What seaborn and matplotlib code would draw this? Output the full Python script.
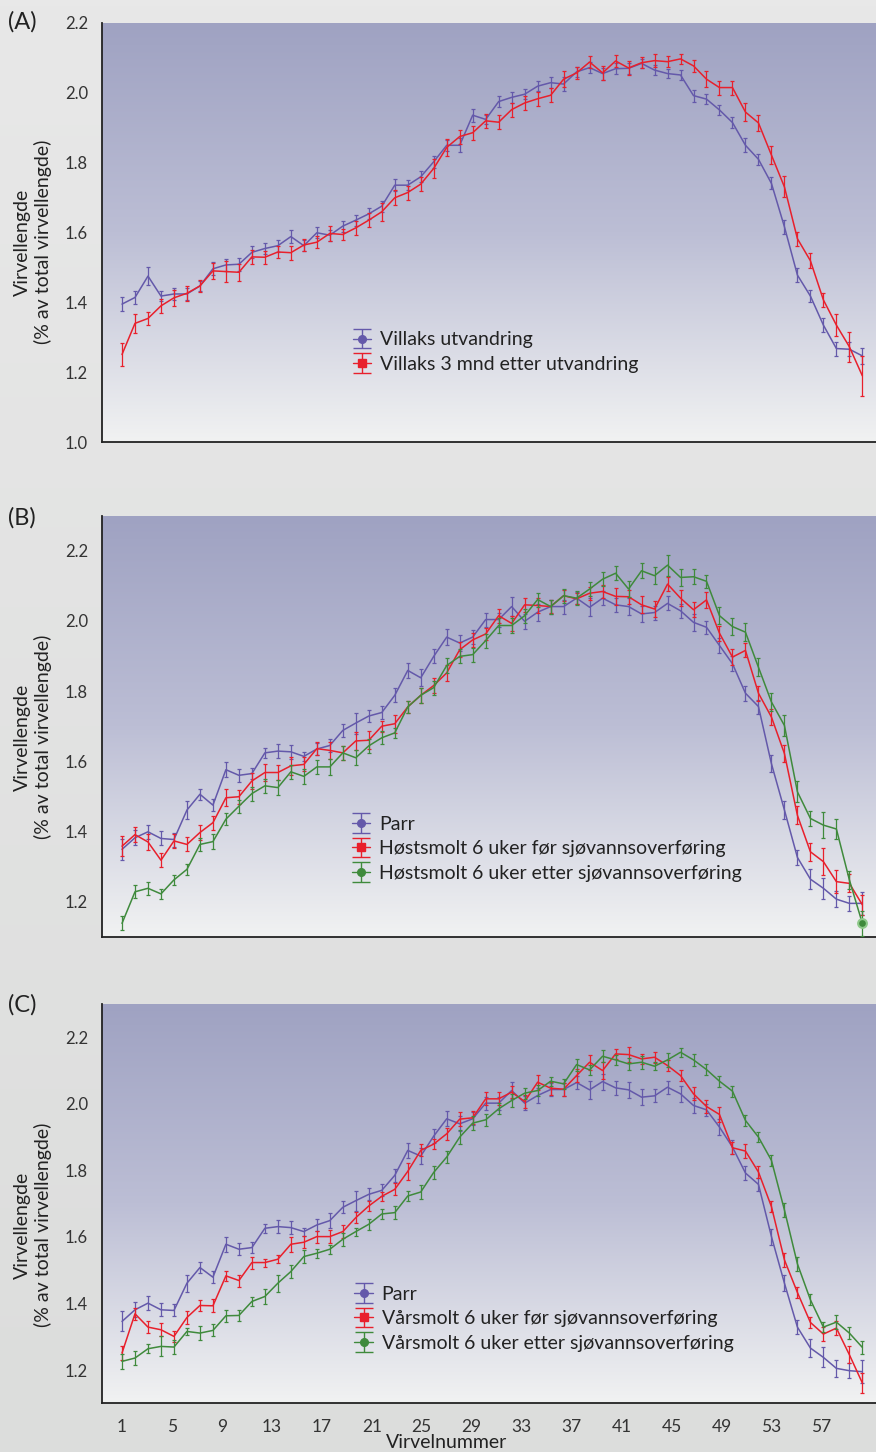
import numpy as np
import matplotlib
matplotlib.use("Agg")
import matplotlib.pyplot as plt
from matplotlib.colors import LinearSegmentedColormap
from matplotlib.ticker import FixedLocator, FormatStrFormatter, NullFormatter
import seaborn as sns

# ---- data ----
point = np.arange(1, 59)                       # 58 measured vertebrae
x_labels = [1, 5, 9, 13, 17, 21, 25, 29, 33, 37, 41, 45, 49, 53, 57]

# (A) wild salmon
a_out = [1.395, 1.414, 1.475, 1.418, 1.424, 1.424, 1.447, 1.496, 1.507, 1.509,
         1.543, 1.554, 1.562, 1.588, 1.562, 1.599, 1.592, 1.618, 1.635, 1.653,
         1.675, 1.735, 1.735, 1.759, 1.802, 1.849, 1.849, 1.935, 1.923, 1.974,
         1.986, 1.995, 2.018, 2.028, 2.024, 2.059, 2.071, 2.054, 2.068, 2.069,
         2.083, 2.064, 2.054, 2.050, 1.991, 1.981, 1.950, 1.914, 1.849, 1.809,
         1.740, 1.616, 1.478, 1.418, 1.335, 1.268, 1.266, 1.247]
a_out_err = [0.021, 0.019, 0.025, 0.015, 0.018, 0.018, 0.015, 0.018, 0.018, 0.018,
             0.017, 0.017, 0.017, 0.018, 0.015, 0.016, 0.016, 0.016, 0.016, 0.016,
             0.016, 0.017, 0.015, 0.016, 0.017, 0.015, 0.020, 0.018, 0.014, 0.016,
             0.016, 0.015, 0.015, 0.015, 0.020, 0.015, 0.016, 0.017, 0.015, 0.015,
             0.014, 0.014, 0.014, 0.015, 0.017, 0.015, 0.015, 0.015, 0.020, 0.016,
             0.017, 0.020, 0.020, 0.018, 0.020, 0.020, 0.020, 0.022]
a_3m = [1.251, 1.340, 1.354, 1.390, 1.413, 1.426, 1.447, 1.490, 1.488, 1.486,
        1.530, 1.529, 1.544, 1.542, 1.564, 1.572, 1.597, 1.594, 1.613, 1.635,
        1.659, 1.699, 1.714, 1.738, 1.783, 1.843, 1.874, 1.885, 1.919, 1.915,
        1.951, 1.970, 1.982, 1.992, 2.038, 2.056, 2.087, 2.056, 2.090, 2.070,
        2.085, 2.091, 2.088, 2.096, 2.076, 2.038, 2.014, 2.014, 1.944, 1.913,
        1.821, 1.730, 1.582, 1.519, 1.407, 1.335, 1.273, 1.190]
a_3m_err = [0.033, 0.027, 0.018, 0.020, 0.022, 0.022, 0.017, 0.022, 0.030, 0.025,
            0.020, 0.018, 0.017, 0.020, 0.016, 0.017, 0.022, 0.017, 0.020, 0.020,
            0.025, 0.022, 0.020, 0.020, 0.028, 0.025, 0.020, 0.020, 0.020, 0.020,
            0.020, 0.020, 0.020, 0.020, 0.022, 0.018, 0.018, 0.020, 0.017, 0.020,
            0.015, 0.018, 0.015, 0.015, 0.017, 0.022, 0.020, 0.020, 0.025, 0.022,
            0.025, 0.030, 0.020, 0.022, 0.020, 0.032, 0.043, 0.058]

# (B) parr / autumn smolt
b_parr = [1.349, 1.382, 1.399, 1.380, 1.377, 1.461, 1.506, 1.475, 1.576, 1.560,
          1.565, 1.624, 1.629, 1.627, 1.614, 1.635, 1.645, 1.688, 1.709, 1.729,
          1.739, 1.788, 1.859, 1.838, 1.899, 1.954, 1.937, 1.954, 2.004, 2.004,
          2.041, 1.999, 2.025, 2.041, 2.041, 2.065, 2.039, 2.065, 2.046, 2.041,
          2.020, 2.024, 2.050, 2.029, 1.996, 1.982, 1.930, 1.878, 1.794, 1.756,
          1.593, 1.461, 1.326, 1.264, 1.238, 1.207, 1.195, 1.195]
b_parr_err = [0.030, 0.022, 0.020, 0.020, 0.020, 0.026, 0.016, 0.018, 0.022, 0.018,
              0.016, 0.014, 0.020, 0.020, 0.012, 0.018, 0.018, 0.018, 0.030, 0.018,
              0.018, 0.020, 0.022, 0.024, 0.020, 0.022, 0.022, 0.020, 0.020, 0.020,
              0.026, 0.022, 0.024, 0.020, 0.020, 0.018, 0.026, 0.020, 0.020, 0.024,
              0.022, 0.020, 0.020, 0.020, 0.024, 0.018, 0.020, 0.022, 0.022, 0.020,
              0.024, 0.025, 0.022, 0.028, 0.030, 0.022, 0.022, 0.033]
b_before = [1.358, 1.391, 1.370, 1.318, 1.373, 1.363, 1.397, 1.425, 1.496, 1.499,
            1.544, 1.568, 1.568, 1.587, 1.591, 1.636, 1.631, 1.624, 1.658, 1.660,
            1.700, 1.707, 1.755, 1.788, 1.816, 1.852, 1.918, 1.946, 1.963, 2.015,
            1.993, 2.046, 2.044, 2.041, 2.072, 2.063, 2.079, 2.084, 2.070, 2.069,
            2.046, 2.034, 2.105, 2.065, 2.032, 2.060, 1.965, 1.897, 1.916, 1.794,
            1.726, 1.622, 1.446, 1.342, 1.314, 1.257, 1.252, 1.191]
b_before_err = [0.028, 0.022, 0.022, 0.020, 0.020, 0.020, 0.020, 0.020, 0.024, 0.020,
                0.024, 0.024, 0.022, 0.025, 0.020, 0.018, 0.024, 0.020, 0.025, 0.025,
                0.016, 0.025, 0.016, 0.022, 0.020, 0.022, 0.022, 0.020, 0.018, 0.020,
                0.022, 0.020, 0.020, 0.018, 0.016, 0.016, 0.018, 0.018, 0.024, 0.020,
                0.024, 0.022, 0.020, 0.022, 0.022, 0.022, 0.022, 0.022, 0.020, 0.022,
                0.022, 0.025, 0.026, 0.025, 0.038, 0.032, 0.026, 0.028]
b_after = [1.138, 1.228, 1.238, 1.222, 1.262, 1.292, 1.363, 1.371, 1.435, 1.472,
           1.508, 1.530, 1.525, 1.570, 1.557, 1.584, 1.584, 1.624, 1.610, 1.644,
           1.667, 1.681, 1.755, 1.788, 1.810, 1.873, 1.899, 1.904, 1.944, 1.987,
           1.987, 2.015, 2.061, 2.041, 2.072, 2.065, 2.091, 2.119, 2.136, 2.091,
           2.143, 2.129, 2.159, 2.124, 2.126, 2.113, 2.015, 1.984, 1.968, 1.868,
           1.769, 1.702, 1.513, 1.437, 1.418, 1.407, 1.262, 1.138]
b_after_err = [0.020, 0.018, 0.018, 0.015, 0.015, 0.015, 0.018, 0.022, 0.018, 0.018,
               0.020, 0.020, 0.022, 0.020, 0.022, 0.020, 0.022, 0.020, 0.022, 0.020,
               0.018, 0.015, 0.018, 0.022, 0.020, 0.022, 0.020, 0.020, 0.020, 0.020,
               0.022, 0.020, 0.020, 0.020, 0.020, 0.020, 0.020, 0.020, 0.020, 0.022,
               0.022, 0.025, 0.030, 0.025, 0.022, 0.018, 0.025, 0.025, 0.025, 0.025,
               0.025, 0.030, 0.030, 0.022, 0.038, 0.028, 0.025, 0.035]

# (C) parr / spring smolt
c_parr = [1.346, 1.381, 1.401, 1.381, 1.379, 1.461, 1.508, 1.479, 1.578, 1.563,
          1.568, 1.626, 1.631, 1.628, 1.616, 1.636, 1.649, 1.689, 1.709, 1.728,
          1.740, 1.785, 1.860, 1.843, 1.903, 1.955, 1.940, 1.955, 2.002, 2.002,
          2.040, 2.002, 2.025, 2.043, 2.043, 2.064, 2.042, 2.067, 2.048, 2.042,
          2.020, 2.024, 2.050, 2.030, 1.995, 1.982, 1.930, 1.870, 1.792, 1.758,
          1.601, 1.461, 1.329, 1.266, 1.238, 1.205, 1.198, 1.195]
c_parr_err = [0.030, 0.022, 0.020, 0.020, 0.018, 0.026, 0.016, 0.018, 0.022, 0.018,
              0.016, 0.014, 0.020, 0.020, 0.012, 0.018, 0.022, 0.018, 0.030, 0.018,
              0.018, 0.020, 0.022, 0.024, 0.020, 0.022, 0.022, 0.020, 0.020, 0.020,
              0.026, 0.022, 0.024, 0.020, 0.020, 0.020, 0.026, 0.024, 0.020, 0.024,
              0.024, 0.020, 0.020, 0.024, 0.024, 0.018, 0.024, 0.022, 0.022, 0.020,
              0.024, 0.025, 0.022, 0.028, 0.030, 0.025, 0.022, 0.035]
c_before = [1.251, 1.369, 1.329, 1.321, 1.301, 1.358, 1.394, 1.393, 1.483, 1.469,
            1.523, 1.523, 1.533, 1.578, 1.584, 1.601, 1.601, 1.616, 1.658, 1.693,
            1.722, 1.743, 1.797, 1.860, 1.879, 1.910, 1.954, 1.958, 2.015, 2.015,
            2.035, 2.007, 2.065, 2.047, 2.044, 2.085, 2.125, 2.100, 2.150, 2.148,
            2.135, 2.140, 2.115, 2.085, 2.030, 1.992, 1.968, 1.868, 1.858, 1.795,
            1.691, 1.531, 1.433, 1.343, 1.308, 1.326, 1.246, 1.161]
c_before_err = [0.022, 0.018, 0.018, 0.020, 0.016, 0.020, 0.016, 0.020, 0.016, 0.018,
                0.018, 0.012, 0.012, 0.022, 0.018, 0.018, 0.020, 0.020, 0.016, 0.016,
                0.014, 0.018, 0.025, 0.018, 0.016, 0.018, 0.020, 0.020, 0.020, 0.020,
                0.018, 0.020, 0.022, 0.020, 0.020, 0.020, 0.022, 0.025, 0.016, 0.022,
                0.016, 0.016, 0.016, 0.016, 0.020, 0.020, 0.022, 0.018, 0.020, 0.018,
                0.016, 0.020, 0.016, 0.016, 0.020, 0.022, 0.025, 0.030]
c_after = [1.226, 1.236, 1.264, 1.271, 1.269, 1.316, 1.311, 1.319, 1.363, 1.364,
           1.406, 1.421, 1.461, 1.496, 1.541, 1.551, 1.563, 1.593, 1.616, 1.638,
           1.669, 1.673, 1.723, 1.735, 1.794, 1.840, 1.900, 1.942, 1.952, 1.985,
           2.010, 2.032, 2.040, 2.068, 2.060, 2.118, 2.102, 2.143, 2.132, 2.120,
           2.125, 2.113, 2.132, 2.155, 2.132, 2.103, 2.068, 2.038, 1.950, 1.900,
           1.830, 1.681, 1.519, 1.411, 1.329, 1.344, 1.311, 1.268]
c_after_err = [0.022, 0.022, 0.014, 0.030, 0.020, 0.010, 0.020, 0.018, 0.018, 0.016,
               0.014, 0.022, 0.026, 0.020, 0.020, 0.014, 0.014, 0.020, 0.012, 0.016,
               0.016, 0.020, 0.016, 0.020, 0.020, 0.018, 0.020, 0.020, 0.018, 0.016,
               0.020, 0.016, 0.016, 0.014, 0.016, 0.018, 0.016, 0.018, 0.016, 0.018,
               0.020, 0.012, 0.020, 0.014, 0.018, 0.016, 0.016, 0.016, 0.016, 0.016,
               0.016, 0.020, 0.022, 0.016, 0.016, 0.020, 0.018, 0.020]

BLUE = "#6459aa"
RED = "#e8202c"
GREEN = "#3f8a3c"
TXT = "#222222"

W, H = 876, 1452

sns.set_theme(style="white")
plt.rcParams['font.family'] = ['Lato', 'DejaVu Sans']
plt.rcParams['text.color'] = TXT

fig = plt.figure(figsize=(W / 100, H / 100), dpi=100)

# light grey page background
bg = fig.add_axes([0, 0, 1, 1], zorder=-5)
bg.imshow(np.linspace(0, 1, 256).reshape(-1, 1), aspect='auto', extent=[0, 1, 0, 1],
          cmap=LinearSegmentedColormap.from_list("page", ["#e8e8e8", "#dcdddc"]))
bg.set_axis_off()

plot_cmap = LinearSegmentedColormap.from_list("panel", ["#9fa2c2", "#bcbed5", "#f1f2f2"])


def px_axes(left, top, bottom):
    return fig.add_axes([left / W, 1 - bottom / H, 1 - left / W, (bottom - top) / H])


def draw_series(ax, y, err, color, marker, label, show_last=False):
    sns.lineplot(x=point, y=y, color=color, linewidth=1.1, ax=ax, legend=False, zorder=3)
    ax.errorbar(point, y, yerr=err, fmt='none', ecolor=color, elinewidth=0.9,
                capsize=1.2, capthick=0.9, zorder=3)
    if show_last:
        sns.scatterplot(x=point[-1:], y=y[-1:], color=color, s=40, edgecolor="#8fc98a",
                        linewidth=1.5, ax=ax, legend=False, zorder=4)
    # legend proxy with wide caps
    return ax.errorbar([np.nan], [np.nan], yerr=[0.01], fmt='-', marker=marker, ms=5.5,
                       color=color, mfc=color, mec=color, elinewidth=1.0,
                       capsize=6.5, capthick=1.0, lw=1.0, label=label)


def style_axes(ax, ylim, yticks, show_xlabels):
    ax.imshow(np.linspace(0, 1, 256).reshape(-1, 1), aspect='auto', extent=[0, 1, 0, 1],
              transform=ax.transAxes, cmap=plot_cmap, zorder=0)
    ax.set_xlim(-0.54, 59.05)
    ax.set_ylim(*ylim)
    for s in ['top', 'right']:
        ax.spines[s].set_visible(False)
    for s in ['left', 'bottom']:
        ax.spines[s].set_color(TXT)
        ax.spines[s].set_linewidth(1.3)
    ax.yaxis.set_major_locator(FixedLocator(yticks))
    ax.yaxis.set_major_formatter(FormatStrFormatter('%.1f'))
    ax.xaxis.set_major_locator(FixedLocator(point[::3]))
    ax.xaxis.set_major_formatter(NullFormatter())
    ax.tick_params(axis='both', which='major', direction='in', length=4, width=1,
                   color=TXT, labelsize=12, labelcolor="#333333")
    ax.tick_params(axis='y', pad=10)
    if show_xlabels:
        # labels are spaced 12.5 px per vertebra while points are 13 px apart
        ax.xaxis.remove_overlapping_locs = False
        ax.set_xticks([1 + (v - 1) * 12.5 / 13 for v in x_labels], minor=True)
        ax.set_xticklabels([str(v) for v in x_labels], minor=True)
        ax.tick_params(axis='x', which='minor', length=0, pad=11, labelsize=12.5,
                       labelcolor="#333333")
    ax.set_xlabel("")
    ax.set_ylabel("")


panels = [
    dict(letter="(A)", top=22.5, bottom=442.3, ylim=(1.0, 2.2),
         yticks=[1.0, 1.2, 1.4, 1.6, 1.8, 2.0, 2.2], letter_y=22, ylab_y=242,
         leg=(0.324, 0.264),
         series=[(a_out, a_out_err, BLUE, 'o', "Villaks utvandring", False),
                 (a_3m, a_3m_err, RED, 's', "Villaks 3 mnd etter utvandring", False)]),
    dict(letter="(B)", top=515.7, bottom=936.7, ylim=(1.1, 2.3),
         yticks=[1.2, 1.4, 1.6, 1.8, 2.0, 2.2], letter_y=518, ylab_y=737,
         leg=(0.323, 0.287),
         series=[(b_parr, b_parr_err, BLUE, 'o', "Parr", False),
                 (b_before, b_before_err, RED, 's', "Høstsmolt 6 uker før sjøvannsoverføring", False),
                 (b_after, b_after_err, GREEN, 'o', "Høstsmolt 6 uker etter sjøvannsoverføring", True)]),
    dict(letter="(C)", top=1004, bottom=1403.3, ylim=(1.1, 2.3),
         yticks=[1.2, 1.4, 1.6, 1.8, 2.0, 2.2], letter_y=1005, ylab_y=1225,
         leg=(0.326, 0.294),
         series=[(c_parr, c_parr_err, BLUE, 'o', "Parr", False),
                 (c_before, c_before_err, RED, 's', "Vårsmolt 6 uker før sjøvannsoverføring", False),
                 (c_after, c_after_err, GREEN, 'o', "Vårsmolt 6 uker etter sjøvannsoverføring", False)]),
]

for k, p in enumerate(panels):
    ax = px_axes(102, p["top"], p["bottom"])
    handles = []
    for y, err, color, marker, label, last in p["series"]:
        handles.append(draw_series(ax, np.array(y), err, color, marker, label, last))
    style_axes(ax, p["ylim"], p["yticks"], show_xlabels=(k == 2))
    leg = ax.legend(handles=handles, loc='upper left', bbox_to_anchor=p["leg"],
                    frameon=False, fontsize=14, handlelength=0.95, handletextpad=0.45,
                    labelspacing=0.38, borderpad=0, borderaxespad=0)
    for t in leg.get_texts():
        t.set_color(TXT)
    fig.text(8 / W, 1 - p["letter_y"] / H, p["letter"], fontsize=17, ha='left', va='center',
             color=TXT)
    fig.text(33 / W, 1 - p["ylab_y"] / H, "Virvellengde\n(% av total virvellengde)",
             rotation=90, ha='center', va='center', multialignment='center',
             linespacing=1.25, fontsize=14, color=TXT)

fig.text(447 / W, 1 - 1442 / H, "Virvelnummer", fontsize=14, ha='center', va='center',
         color=TXT)

fig.savefig("out.png", dpi=100)
